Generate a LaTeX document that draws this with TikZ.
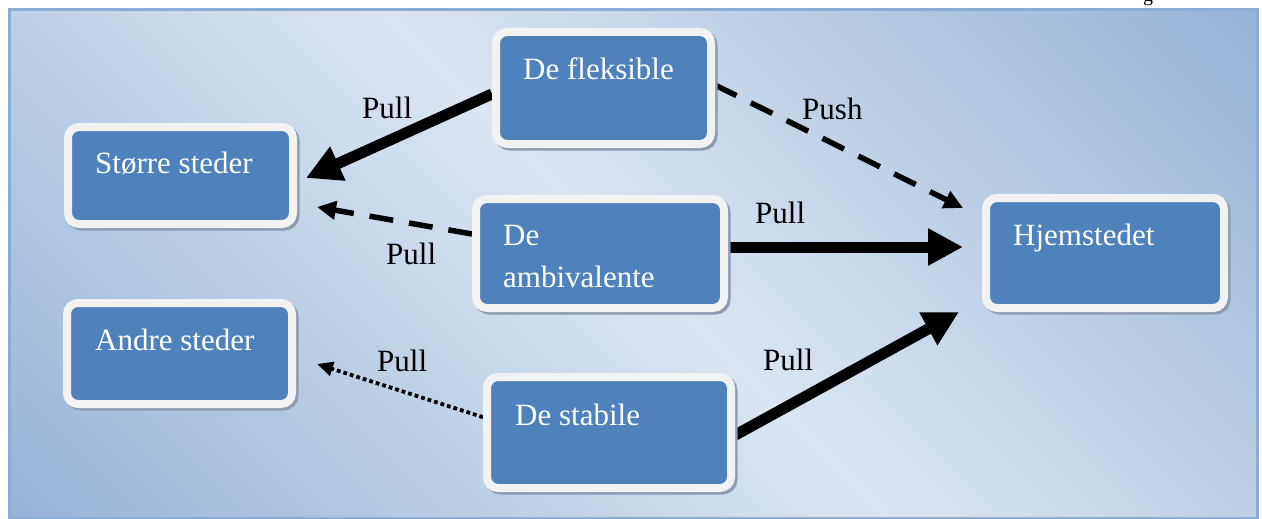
\documentclass[tikz,border=0pt]{standalone}
\usepackage{fontspec}
\setmainfont{Liberation Serif}
\usetikzlibrary{arrows.meta,calc}
\definecolor{bgblue}{HTML}{95B3D7}
\definecolor{bglight}{HTML}{DBE5F1}
\definecolor{framecol}{HTML}{8AADD6}
\definecolor{boxblue}{HTML}{4F81BD}
\definecolor{boxrim}{HTML}{F2F2F2}
\definecolor{boxshadow}{HTML}{8E9BB0}
\pgfdeclareverticalshading{bgshade}{100bp}{color(0bp)=(bgblue); color(14.6bp)=(bgblue); color(50bp)=(bglight); color(85.4bp)=(bgblue); color(100bp)=(bgblue)}
\pgfdeclarelayer{back}
\pgfdeclarelayer{mid}
\pgfsetlayers{back,mid,main}
\begin{document}
\begin{tikzpicture}[x=1pt,y=-1pt,
  box/.style={draw=boxrim, fill=boxblue, line width=8pt, rounded corners=11pt, inner sep=0pt,
    preaction={draw=boxshadow, fill=boxshadow, transform canvas={shift={(2.5,2.5)}}}},
  txt/.style={anchor=base west, inner sep=0pt, text=white, font=\fontsize{31}{42}\selectfont},
  lbl/.style={anchor=base west, inner sep=0pt, text=black, font=\fontsize{31}{42}\selectfont},
  thickarrow/.style={line width=11pt, -{Triangle[length=35pt,width=35pt]}},
  dasharrow/.style={line width=5.5pt, dash pattern=on 24pt off 16pt, -{Triangle[length=19pt,width=18pt]}},
  dotarrow/.style={line width=3.8pt, dash pattern=on 3.8pt off 3pt, -{Triangle[length=16pt,width=14pt]}},
]
\useasboundingbox (0,0) rectangle (1262,519);
\begin{pgfonlayer}{back}
  \fill[white] (0,0) rectangle (1262,519);
  \shade[shading=bgshade, shading angle=-45] (9,9.5) rectangle (1257,518);
  \draw[framecol, line width=3pt] (9,9.5) rectangle (1257,518);
\end{pgfonlayer}

% cut-off text at the top edge
\begin{scope}
  \clip (1100,0) rectangle (1262,7.5);
  \node[anchor=base west, inner sep=0pt, font=\fontsize{20}{24}\selectfont] (cut) at (1143,1.5) {g};
\end{scope}

% boxes
\node[box, minimum width=215pt, minimum height=112pt] (fleks) at (603.5,88) {};
\node[box, minimum width=225pt, minimum height=97pt] (store) at (180.5,175.5) {};
\node[box, minimum width=248pt, minimum height=109pt] (ambi) at (600,253.5) {};
\node[box, minimum width=238pt, minimum height=110pt] (hjem) at (1105,253) {};
\node[box, minimum width=225pt, minimum height=101pt] (andre) at (179.5,353.5) {};
\node[box, minimum width=244pt, minimum height=111pt] (stab) at (609,432.5) {};

% box texts
\node[txt] (fleksT) at (523,80) {De fleksible};
\node[txt] (storeT) at (95,173) {Større steder};
\node[txt, text width=210pt, align=left] (ambiT) at (503,245) {De\\ambivalente};
\node[txt] (hjemT) at (1013,245) {Hjemstedet};
\node[txt] (andreT) at (95,350) {Andre steder};
\node[txt] (stabT) at (515,425) {De stabile};

% connectors
\begin{pgfonlayer}{mid}
  \draw[thickarrow] ($(fleks.west)+(0,6)$) -- ($(store.east)+(9,2.5)$);
  \draw[dasharrow] ($(ambi.west)+(0,-19.5)$) -- ($(store.east)+(20,31.5)$);
  \draw[dasharrow] ($(fleks.east)+(0,-3)$) -- ($(hjem.west)+(-19,-45)$);
  \draw[thickarrow] ($(ambi.east)+(0,-6.5)$) -- ($(hjem.west)+(-19,-6)$);
  \draw[thickarrow] ($(stab.east)+(0,2.7)$) -- ($(hjem.south west)+(-23,0)$);
  \draw[dotarrow] ($(stab.west)+(0,-15.3)$) -- ($(andre.east)+(21,10.5)$);
\end{pgfonlayer}

% connector labels
\node[lbl] (l1) at (362,118) {Pull};
\node[lbl] (l2) at (386,264) {Pull};
\node[lbl] (l3) at (802,119) {Push};
\node[lbl] (l4) at (755,223) {Pull};
\node[lbl] (l5) at (377,371) {Pull};
\node[lbl] (l6) at (763,370) {Pull};
\end{tikzpicture}
\end{document}
